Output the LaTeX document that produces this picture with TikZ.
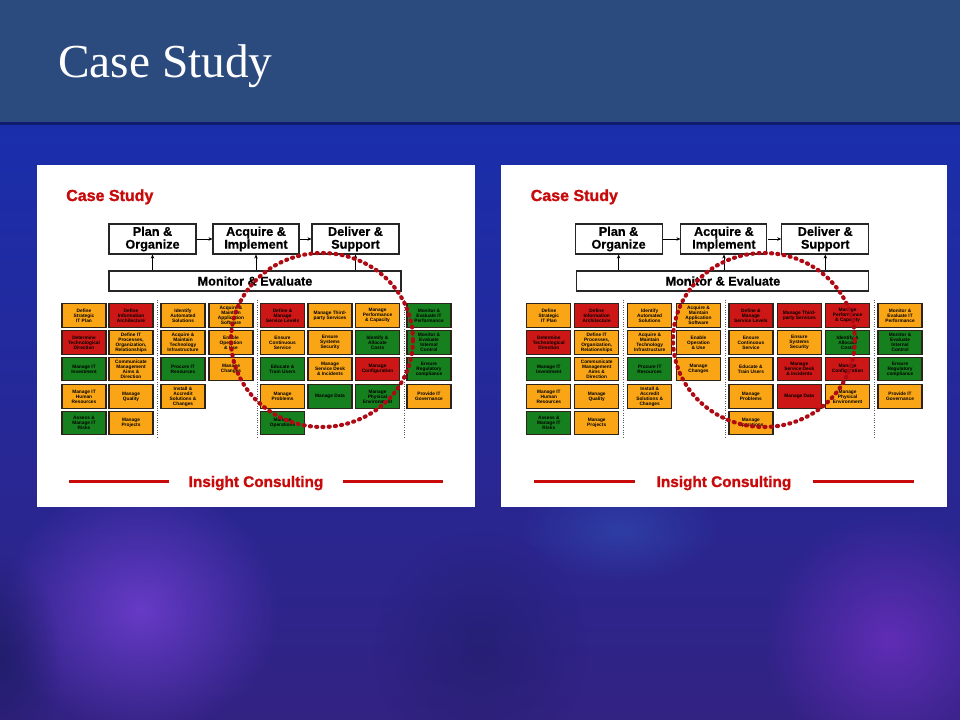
\documentclass[tikz,border=0pt]{standalone}
\usepackage{fontspec}
\setmainfont{Liberation Serif}
\newfontfamily\arialf{Liberation Sans}
\newfontfamily\heavyf[FakeBold=1.4]{Liberation Sans Bold}
\newfontfamily\semiheavyf[FakeBold=0.6]{Liberation Sans Bold}
\usetikzlibrary{fadings,arrows.meta}

\definecolor{cbor}{RGB}{250,165,22}
\definecolor{cbred}{RGB}{205,22,22}
\definecolor{cbgrn}{RGB}{22,128,30}
\definecolor{hdr}{RGB}{200,10,10}
\definecolor{dotc}{RGB}{175,10,20}
\definecolor{titlebar}{RGB}{43,74,126}
\definecolor{bxline}{RGB}{45,35,25}
\definecolor{bgtop}{RGB}{26,46,172}
\definecolor{bgmid}{RGB}{42,44,150}
\definecolor{bgbot}{RGB}{50,34,130}
\definecolor{glowpurple}{RGB}{122,66,218}
\definecolor{glowpurple2}{RGB}{112,48,196}
\definecolor{glowblue}{RGB}{50,86,186}
\definecolor{darknavy}{RGB}{30,28,100}

\tikzfading[name=glow, inner color=transparent!25, outer color=transparent!100]
\tikzfading[name=softglow, inner color=transparent!50, outer color=transparent!100]

\tikzset{
  bx/.style={draw=bxline, line width=0.9pt, fill=#1, minimum width=33pt,
    minimum height=17.6pt, inner sep=0pt, align=center, text=black,
    font=\arialf\bfseries\fontsize{3.6}{3.8}\selectfont},
  topbox/.style={draw=black!85, line width=0.8pt, fill=white, inner sep=0pt,
    align=center, font=\semiheavyf\fontsize{9.5}{9.6}\selectfont},
  sepline/.style={draw=black!65, line width=0.6pt, dash pattern=on 0.6pt off 1.2pt},
  flow/.style={-{Stealth[length=3pt,width=2.6pt]}, line width=0.5pt, black},
  dotring/.style={draw=dotc, line width=3.1pt, line cap=round, dash pattern=on 0.8pt off 3.9pt},
  redrule/.style={draw=hdr, line width=1.6pt},
  hdrtext/.style={text=hdr, inner sep=0pt, font=\heavyf\fontsize{12}{12}\selectfont},
}

\newcommand\commonpanel[1]{%
  \fill[white] (37,165) rectangle (475,507);
  \node[hdrtext, anchor=base west] (#1title) at (66,201) {Case Study};
  \node[topbox, minimum width=65.25pt, minimum height=22.5pt] (#1po) at (152.5,239) {Plan \&\\Organize};
  \node[topbox, minimum width=64.5pt, minimum height=22.5pt] (#1ai) at (256,239) {Acquire \&\\Implement};
  \node[topbox, minimum width=65.25pt, minimum height=22.5pt] (#1ds) at (355.5,239) {Deliver \&\\Support};
  \node[topbox, minimum width=219pt, minimum height=15pt] (#1me) at (255,281) {Monitor \& Evaluate};
  \draw[flow] (#1po) -- (#1ai);
  \draw[flow] (#1ai) -- (#1ds);
  \draw[flow] (#1me.north -| #1po.south) -- (#1po.south);
  \draw[flow] (#1me.north -| #1ai.south) -- (#1ai.south);
  \draw[flow] (#1me.north -| #1ds.south) -- (#1ds.south);
  % PO
  \node[bx=cbor]  (#1pa1) at (84,315.5) {Define\\Strategic\\IT Plan};
  \node[bx=cbred] (#1pa2) at (84,342.5) {Determine\\Technological\\Direction};
  \node[bx=cbgrn] (#1pa3) at (84,369) {Manage IT\\Investment};
  \node[bx=cbor]  (#1pa4) at (84,396.5) {Manage IT\\Human\\Resources};
  \node[bx=cbgrn] (#1pa5) at (84,423) {Assess \&\\Manage IT\\Risks};
  \node[bx=cbred] (#1pb1) at (131,315.5) {Define\\Information\\Architecture};
  \node[bx=cbor]  (#1pb2) at (131,342.5) {Define IT\\Processes,\\Organization,\\Relationships};
  \node[bx=cbor]  (#1pb3) at (131,369) {Communicate\\Management\\Aims \&\\Direction};
  \node[bx=cbor]  (#1pb4) at (131,396.5) {Manage\\Quality};
  \node[bx=cbor]  (#1pb5) at (131,423) {Manage\\Projects};
  % AI
  \node[bx=cbor]  (#1aa1) at (183,315.5) {Identify\\Automated\\Solutions};
  \node[bx=cbor]  (#1aa2) at (183,342.5) {Acquire \&\\Maintain\\Technology\\Infrastructure};
  \node[bx=cbgrn] (#1aa3) at (183,369) {Procure IT\\Resources};
  \node[bx=cbor]  (#1aa4) at (183,396.5) {Install \&\\Accredit\\Solutions \&\\Changes};
  \node[bx=cbor]  (#1ab1) at (231,315.5) {Acquire \&\\Maintain\\Application\\Software};
  \node[bx=cbor]  (#1ab2) at (231,342.5) {Enable\\Operation\\\& Use};
  \node[bx=cbor]  (#1ab3) at (231,369) {Manage\\Changes};
  % separators
  \draw[sepline] (157,300) -- (157,437);
  \draw[sepline] (257,300) -- (257,437);
  \draw[sepline] (404,300) -- (404,437);
  % footer
  \node[hdrtext, font=\heavyf\fontsize{11.5}{12}\selectfont, anchor=base] (#1foot) at (256,487) {Insight Consulting};
  \draw[redrule] (69,481.5) -- (169,481.5);
  \draw[redrule] (343,481.5) -- (443,481.5);
}

\begin{document}
\begin{tikzpicture}[x=0.75pt,y=-0.75pt]
\useasboundingbox (0,0) rectangle (960,720);
% background
\shade[top color=bgtop, middle color=bgmid, bottom color=bgbot] (0,122) rectangle (960,720);
\fill[glowpurple, path fading=glow] (140,610) ellipse [x radius=105pt, y radius=95pt];
\fill[glowpurple2, path fading=glow] (890,640) ellipse [x radius=95pt, y radius=95pt];
\fill[glowblue, path fading=softglow] (620,530) ellipse [x radius=75pt, y radius=40pt];
\fill[darknavy, path fading=softglow] (480,650) ellipse [x radius=80pt, y radius=90pt];
\fill[darknavy, path fading=glow] (0,660) ellipse [x radius=45pt, y radius=80pt];
\fill[titlebar] (0,0) rectangle (960,122);
\fill[black, opacity=0.35] (0,122) rectangle (960,125);
\node[anchor=base west, text=white, inner sep=0pt, font=\fontsize{35.5}{36}\selectfont] (slidetitle) at (58,78) {Case Study};

% left panel
\begin{scope}
  \commonpanel{L}
  \node[bx=cbred] (Lda1) at (282.5,315.5) {Define \&\\Manage\\Service Levels};
  \node[bx=cbor]  (Lda2) at (282.5,342.5) {Ensure\\Continuous\\Service};
  \node[bx=cbgrn] (Lda3) at (282.5,369) {Educate \&\\Train Users};
  \node[bx=cbor]  (Lda4) at (282.5,396.5) {Manage\\Problems};
  \node[bx=cbgrn] (Lda5) at (282.5,423) {Manage\\Operations};
  \node[bx=cbor]  (Ldb1) at (330,315.5) {Manage Third-\\party Services};
  \node[bx=cbor]  (Ldb2) at (330,342.5) {Ensure\\Systems\\Security};
  \node[bx=cbor]  (Ldb3) at (330,369) {Manage\\Service Desk\\\& Incidents};
  \node[bx=cbgrn] (Ldb4) at (330,396.5) {Manage Data};
  \node[bx=cbor]  (Ldc1) at (377.5,315.5) {Manage\\Performance\\\& Capacity};
  \node[bx=cbgrn] (Ldc2) at (377.5,342.5) {Identify \&\\Allocate\\Costs};
  \node[bx=cbred] (Ldc3) at (377.5,369) {Manage\\Configuration};
  \node[bx=cbgrn] (Ldc4) at (377.5,396.5) {Manage\\Physical\\Environment};
  \node[bx=cbgrn] (Lm1) at (429,315.5) {Monitor \&\\Evaluate IT\\Performance};
  \node[bx=cbgrn] (Lm2) at (429,342.5) {Monitor \&\\Evaluate\\Internal\\Control};
  \node[bx=cbgrn] (Lm3) at (429,369) {Ensure\\Regulatory\\compliance};
  \node[bx=cbor]  (Lm4) at (429,396.5) {Provide IT\\Governance};
  \draw[dotring] (322,340) ellipse [x radius=68.25pt, y radius=65.25pt];
\end{scope}

% right panel
\begin{scope}[shift={(501,0)}, xscale=1.018, shift={(-37,0)}]
  \commonpanel{R}
  \node[bx=cbred] (Rda1) at (282.5,315.5) {Define \&\\Manage\\Service Levels};
  \node[bx=cbor]  (Rda2) at (282.5,342.5) {Ensure\\Continuous\\Service};
  \node[bx=cbor]  (Rda3) at (282.5,369) {Educate \&\\Train Users};
  \node[bx=cbor]  (Rda4) at (282.5,396.5) {Manage\\Problems};
  \node[bx=cbor]  (Rda5) at (282.5,423) {Manage\\Operations};
  \node[bx=cbred] (Rdb1) at (330,315.5) {Manage Third-\\party Services};
  \node[bx=cbor]  (Rdb2) at (330,342.5) {Ensure\\Systems\\Security};
  \node[bx=cbred] (Rdb3) at (330,369) {Manage\\Service Desk\\\& Incidents};
  \node[bx=cbred] (Rdb4) at (330,396.5) {Manage Data};
  \node[bx=cbred] (Rdc1) at (377.5,315.5) {Manage\\Performance\\\& Capacity};
  \node[bx=cbgrn] (Rdc2) at (377.5,342.5) {Identify \&\\Allocate\\Costs};
  \node[bx=cbred] (Rdc3) at (377.5,369) {Manage\\Configuration};
  \node[bx=cbor]  (Rdc4) at (377.5,396.5) {Manage\\Physical\\Environment};
  \node[bx=cbor]  (Rm1) at (429,315.5) {Monitor \&\\Evaluate IT\\Performance};
  \node[bx=cbgrn] (Rm2) at (429,342.5) {Monitor \&\\Evaluate\\Internal\\Control};
  \node[bx=cbgrn] (Rm3) at (429,369) {Ensure\\Regulatory\\compliance};
  \node[bx=cbor]  (Rm4) at (429,396.5) {Provide IT\\Governance};
  \draw[dotring] (295.3,340) ellipse [x radius=67pt, y radius=65.25pt];
\end{scope}
\end{tikzpicture}
\end{document}
